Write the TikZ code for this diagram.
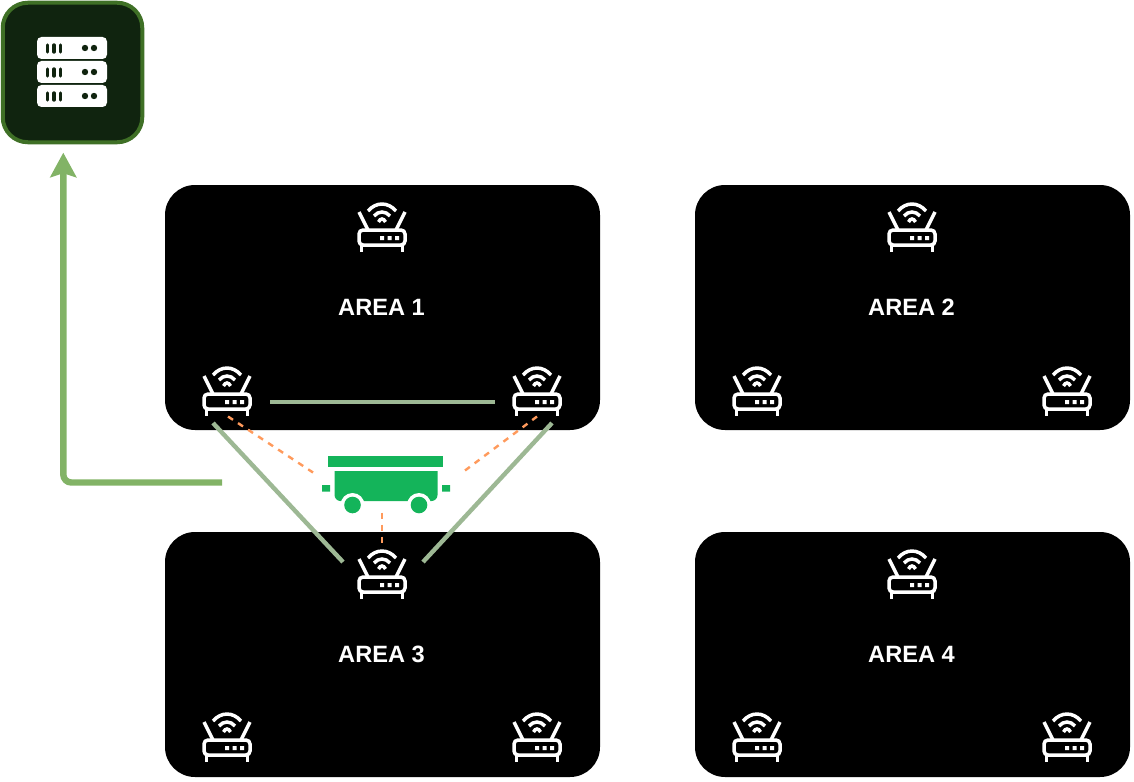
\documentclass[tikz,border=0pt]{standalone}
\usepackage{fontspec}
\setmainfont{Liberation Sans}
\usetikzlibrary{arrows.meta}
\definecolor{linkgreen}{HTML}{9DB894}
\definecolor{uplink}{HTML}{82B366}
\definecolor{radio}{HTML}{FF9A5C}
\definecolor{agv}{HTML}{14B45A}
\definecolor{srvfill}{HTML}{10240F}
\definecolor{srvline}{HTML}{3F7026}
\tikzset{
  x=1pt,y=-1pt,
  areabox/.style={fill=black,draw=none,rounded corners=30pt},
  arealabel/.style={text=white,font=\fontsize{23.6}{28}\selectfont\bfseries,inner sep=0pt},
  wire/.style={linkgreen,line width=4.4pt},
  radiolink/.style={radio,line width=2.4pt,dash pattern=on 6pt off 6pt},
  uplinkline/.style={uplink,line width=6.4pt,rounded corners=8pt},
  iconline/.style={white,line width=3.5pt},
  router/.pic={
    \draw[iconline,rounded corners=4pt] (-23,3) rectangle (23,18);
    \draw[iconline] (-20.5,18) -- (-20.5,25) (20.5,18) -- (20.5,25);
    \draw[iconline] (-14,3) -- (-23,-15) (14,3) -- (23,-15);
    \draw[iconline] (-14,-16) .. controls (-6,-25.3) and (6,-25.3) .. (14,-16);
    \draw[iconline] (-8,-11) .. controls (-3.5,-16.3) and (3.5,-16.3) .. (8,-11);
    \draw[iconline] (-3.5,-5) .. controls (-1.5,-9) and (1.5,-9) .. (3.5,-5);
    \fill[white] (-2,9) rectangle (2,13) (5.5,9) rectangle (9.5,13) (13.2,9) rectangle (17.2,13);
  },
  serverrow/.pic={
    \fill[white,rounded corners=4.5pt] (0,0) rectangle (70,22);
    \draw[srvfill,line width=3.4pt,line cap=round] (10.5,8) -- (10.5,15) (17,8) -- (17,15) (23.5,8) -- (23.5,15);
    \fill[srvfill] (48,11) circle (3.2) (57,11) circle (3.2);
  },
}
\begin{document}
\begin{tikzpicture}
\useasboundingbox (0,0) rectangle (1134,781);
% server
\node[draw=srvline,fill=srvfill,line width=4pt,rounded corners=25pt,minimum width=139.5pt,minimum height=139.5pt,inner sep=0pt] (server) at (72.5,72.5) {};
\pic at (37,37) {serverrow};
\pic at (37,61) {serverrow};
\pic at (37,85) {serverrow};
% areas
\fill[areabox] (165,185) rectangle (600,430);
\fill[areabox] (695,185) rectangle (1130,430);
\fill[areabox] (165,532) rectangle (600,777);
\fill[areabox] (695,532) rectangle (1130,777);
\node[arealabel] (a1) at (381.5,307) {AREA 1};
\node[arealabel] (a2) at (911.5,307) {AREA 2};
\node[arealabel] (a3) at (381.5,654) {AREA 3};
\node[arealabel] (a4) at (911.5,654) {AREA 4};
% routers
\foreach \n/\x/\y in {r1t/382/227,r1l/227/391,r1r/537/391,
                      r2t/912/227,r2l/757/391,r2r/1067/391,
                      r3t/382/574,r3l/227/737,r3r/537/737,
                      r4t/912/574,r4l/757/737,r4r/1067/737}{
  \coordinate (\n) at (\x,\y);
  \pic at (\n) {router};
}
% connector ends
\coordinate (wa) at (270,402);
\coordinate (wb) at (495,402);
\coordinate (wc) at (213,423);
\coordinate (wd) at (343,562);
\coordinate (we) at (552,423);
\coordinate (wf) at (423,562);
\coordinate (da) at (228,416.5);
\coordinate (db) at (313,472.5);
\coordinate (dc) at (537,416.5);
\coordinate (dd) at (465,470.5);
\coordinate (de) at (382,512.5);
\coordinate (df) at (382,543);
\coordinate (ua) at (222,482.5);
\coordinate (ub) at (63.3,482.5);
\coordinate (uc) at (63.3,152.7);
\draw[wire] (wa) -- (wb);
\draw[wire] (wc) -- (wd);
\draw[wire] (we) -- (wf);
\draw[radiolink] (da) -- (db);
\draw[radiolink] (dc) -- (dd);
\draw[radiolink] (de) -- (df);
\draw[uplinkline,-{Stealth[length=24.5pt,width=26pt,inset=4pt]}] (ua) -- (ub) -- (uc);
% vehicle
\fill[agv] (328,456) rectangle (443,467);
\fill[agv,rounded corners=0pt] (334.5,471) -- (437.5,471) -- (437.5,495) arc (0:90:6) -- (340.5,501) arc (90:180:6) -- cycle;
\fill[white] (352.5,505) circle (12) (419,505) circle (12);
\fill[agv] (352.5,505) circle (8.3) (419,505) circle (8.3);
\fill[agv] (322,485) rectangle (330,491.5) (442,485) rectangle (450,491.5);
\end{tikzpicture}
\end{document}
